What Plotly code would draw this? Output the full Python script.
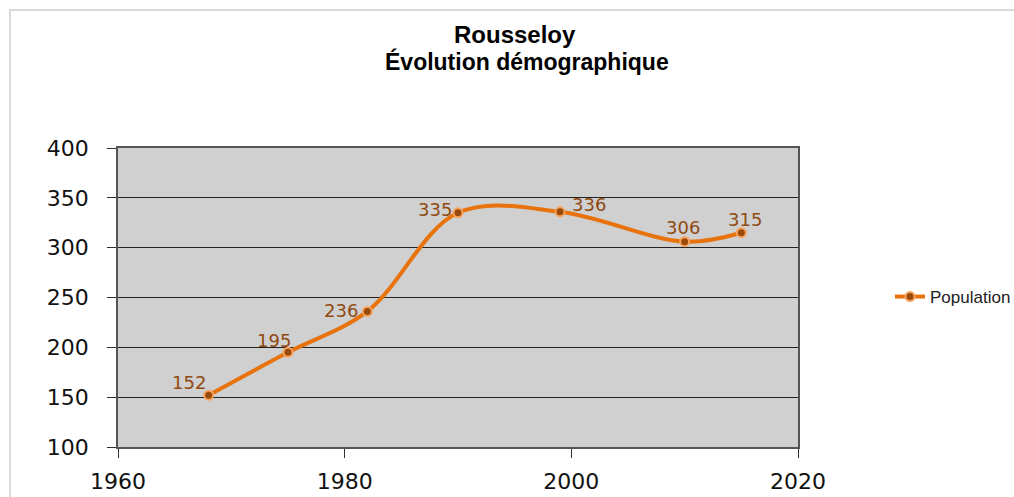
import plotly.graph_objects as go

years = [1968, 1975, 1982, 1990, 1999, 2010, 2015]
population = [152, 195, 236, 335, 336, 306, 315]

# label placement style per point: (xanchor, xshift, yshift)
label_style = [("right", -2, 13), ("right", 4, 12), ("right", -8, 1), ("right", -5, 3),
               ("left", 11, 7), ("center", -2, 14), ("center", 4, 13)]

L, R, T, B = 118, 798, 148, 447
W, H = 1014, 497

fig = go.Figure()
fig.add_trace(go.Scatter(
    x=years, y=population, name="Population",
    mode="lines+markers",
    line=dict(color="#E8720C", width=4, shape="spline", smoothing=1.0),
    marker=dict(size=9, color="#9A4A0A", line=dict(color="#F7A35C", width=2)),
    cliponaxis=False,
))

def px_x(p):
    return (p - L) / (R - L)

def px_y(p):
    return (B - p) / (B - T)

annotations = [
    dict(text="<b>Rousseloy</b>", xref="paper", yref="paper",
         x=px_x(515), y=px_y(34), xanchor="center", yanchor="middle",
         showarrow=False,
         font=dict(family="Liberation Sans, Arial", size=24, color="black")),
    dict(text="<b>Évolution démographique</b>", xref="paper", yref="paper",
         x=px_x(527), y=px_y(62), xanchor="center", yanchor="middle",
         showarrow=False,
         font=dict(family="Liberation Sans, Arial", size=23, color="black")),
]
for xv, yv, (xa, xs, ys) in zip(years, population, label_style):
    annotations.append(dict(
        x=xv, y=yv, xref="x", yref="y", text=str(yv), showarrow=False,
        xanchor=xa, yanchor="middle", xshift=xs, yshift=ys, borderpad=0,
        font=dict(family="DejaVu Sans", size=18, color="#8F4A10")))

fig.update_layout(
    width=W, height=H,
    margin=dict(l=L, r=W - R, t=T, b=H - B, autoexpand=False),
    paper_bgcolor="white", plot_bgcolor="#D0D0D0",
    showlegend=True,
    legend=dict(x=px_x(890), y=px_y(297), xanchor="left", yanchor="middle",
                font=dict(family="Liberation Sans, Arial", size=17, color="#222"),
                bgcolor="rgba(0,0,0,0)", itemwidth=30),
    xaxis=dict(range=[1960, 2020], tickvals=[1960, 1980, 2000, 2020],
               showgrid=False, zeroline=False, ticks="outside", ticklen=9,
               tickcolor="#333", showline=True, linecolor="#555", linewidth=1.5,
               mirror=True, ticklabelstandoff=5, automargin=False,
               tickfont=dict(family="DejaVu Sans", size=22, color="#111")),
    yaxis=dict(range=[100, 400], tickvals=[100, 150, 200, 250, 300, 350, 400],
               showgrid=True, gridcolor="#222", gridwidth=1.2, zeroline=False,
               ticks="outside", ticklen=9, tickcolor="#333",
               showline=True, linecolor="#555", linewidth=1.5, mirror=True,
               ticklabelstandoff=14, automargin=False,
               tickfont=dict(family="DejaVu Sans", size=22, color="#111")),
    annotations=annotations,
    shapes=[dict(type="rect", xref="paper", yref="paper",
                 x0=px_x(10), x1=px_x(1040), y0=px_y(530), y1=px_y(10),
                 line=dict(color="#D9D9D9", width=2), fillcolor="rgba(0,0,0,0)",
                 layer="below")],
)

fig.write_html("out.html", config={"displayModeBar": False},
               post_script="document.body.style.margin='0px';document.body.style.overflow='hidden';")
